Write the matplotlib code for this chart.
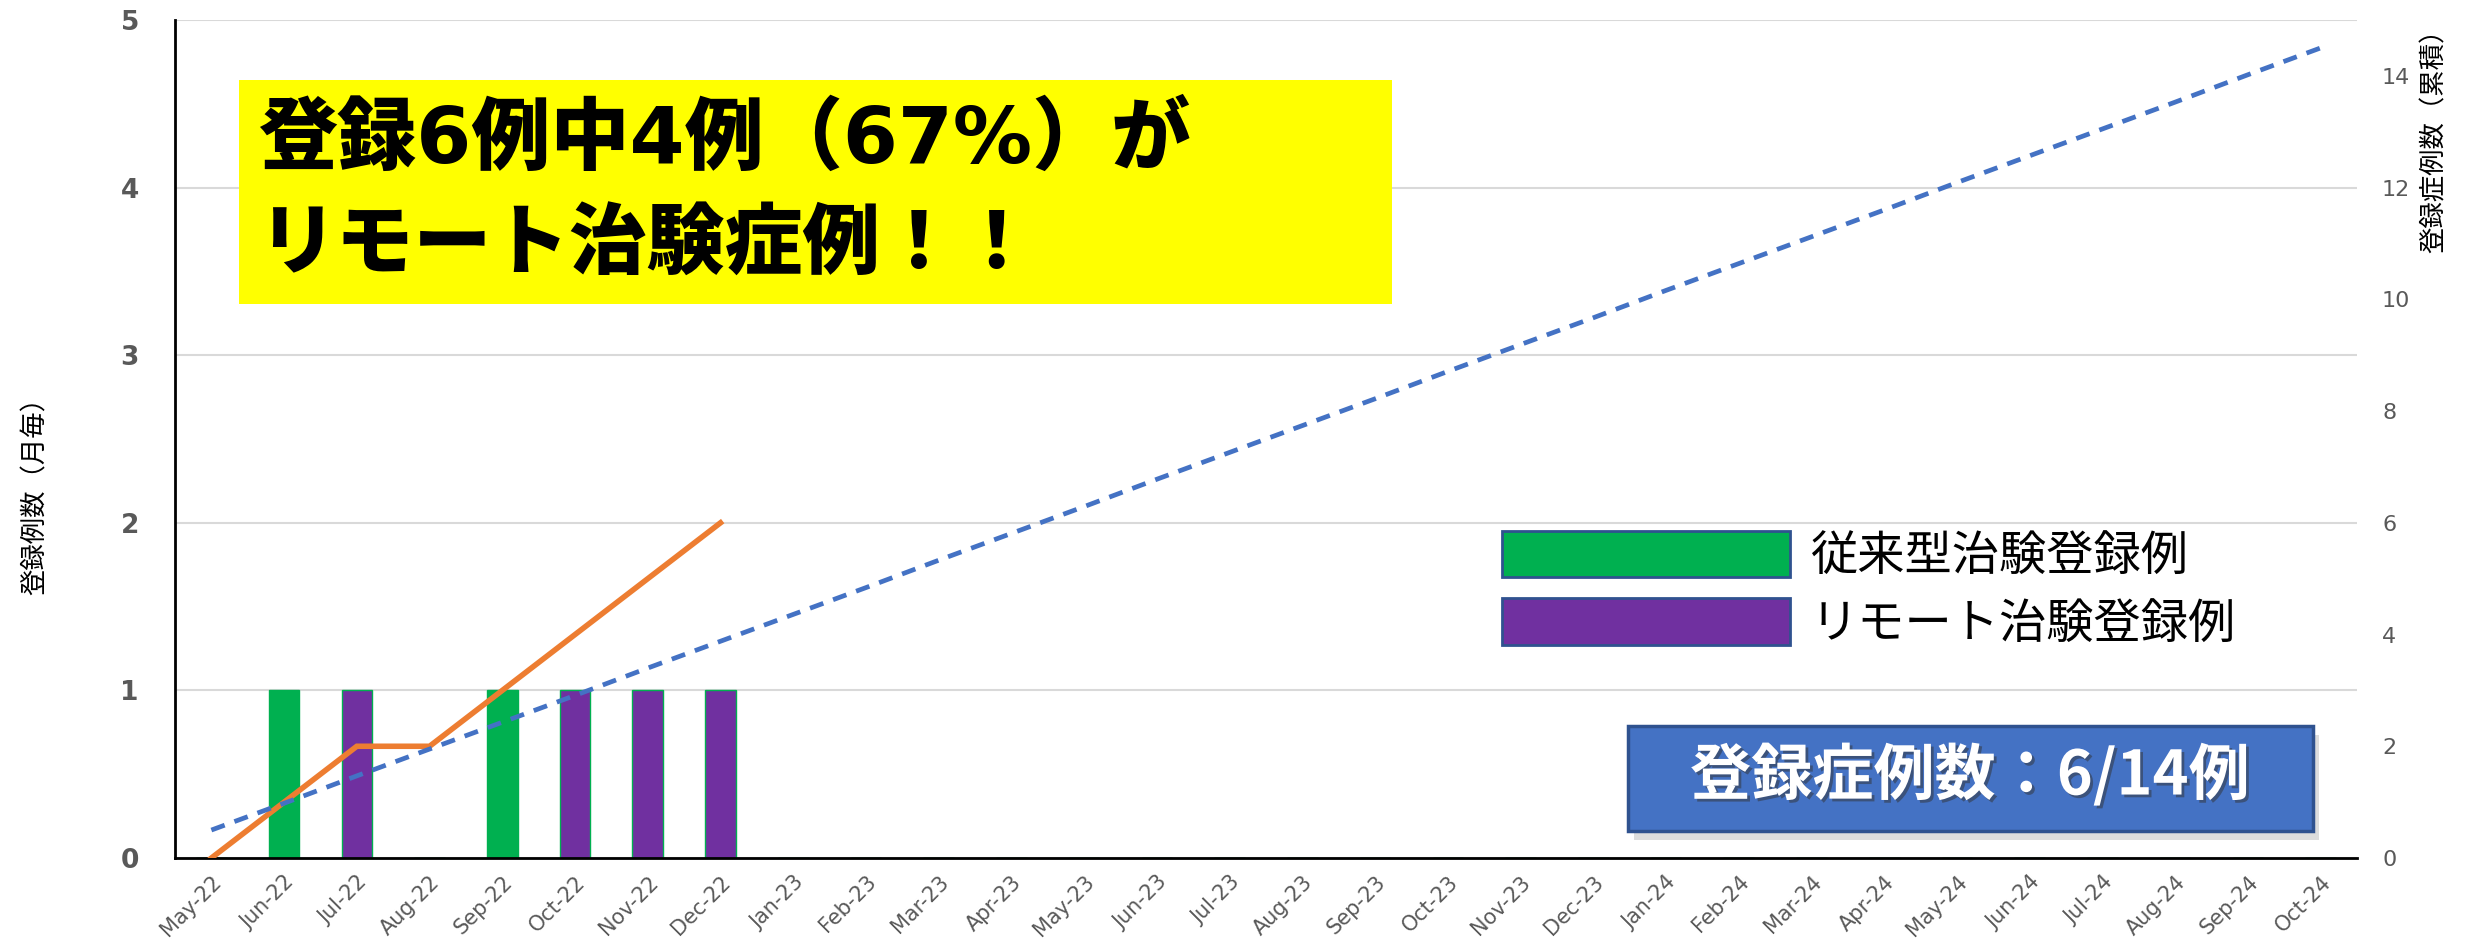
import matplotlib
matplotlib.use("Agg")
import matplotlib.pyplot as plt
import matplotlib.patheffects as pe
from matplotlib.patches import Rectangle, Patch
import numpy as np

plt.rcParams['font.family'] = ['Noto Sans CJK JP', 'DejaVu Sans']

# data
months = ['May-22', 'Jun-22', 'Jul-22', 'Aug-22', 'Sep-22', 'Oct-22', 'Nov-22', 'Dec-22',
          'Jan-23', 'Feb-23', 'Mar-23', 'Apr-23', 'May-23', 'Jun-23', 'Jul-23', 'Aug-23',
          'Sep-23', 'Oct-23', 'Nov-23', 'Dec-23', 'Jan-24', 'Feb-24', 'Mar-24', 'Apr-24',
          'May-24', 'Jun-24', 'Jul-24', 'Aug-24', 'Sep-24', 'Oct-24']
conventional = [0, 1, 0, 0, 1, 0, 0, 0] + [0] * 22
remote = [0, 0, 1, 0, 0, 1, 1, 1] + [0] * 22
cumulative = [0, 1, 2, 2, 3, 4, 5, 6]
target = [0.5, 0.98, 1.47, 1.95, 2.43, 2.91, 3.40, 3.88, 4.36, 4.84, 5.33, 5.81, 6.29, 6.78, 7.26,
          7.74, 8.22, 8.71, 9.19, 9.67, 10.16, 10.64, 11.12, 11.60, 12.09, 12.57, 13.05, 13.53,
          14.02, 14.5]
legend_labels = ['従来型治験登録例', 'リモート治験登録例']
headline = ['登録6例中4例（67%）が', 'リモート治験症例！！']
total_text = '登録症例数：6/14例'

W, H = 2469, 947
fig = plt.figure(figsize=(W / 100, H / 100), dpi=100)


def fx(px):
    return px / W


def fy(py):
    return 1 - py / H


ax = fig.add_axes([fx(175), fy(858), fx(2357 - 175), (858 - 20) / H])
ax2 = ax.twinx()

x = np.arange(len(months))
green = '#00b050'
purple = '#7030a0'
ax.bar(x, conventional, width=0.42, color=green, edgecolor=green, linewidth=1)
ax.bar(x, remote, width=0.42, color=purple, edgecolor=green, linewidth=1)

ax.set_xlim(-0.5, len(months) - 0.5)
ax.set_ylim(0, 5)
ax.set_yticks(range(6))
ax.grid(axis='y', color='#d9d9d9', linewidth=1.5)
ax.set_axisbelow(True)
ax.set_xticks(x)
ax.set_xticklabels(months, rotation=45, ha='right', rotation_mode='anchor',
                   color='#595959', fontsize=15, family='DejaVu Sans')
ax.tick_params(axis='both', length=0, pad=10)
for t in ax.get_yticklabels():
    t.set_family('DejaVu Sans')
    t.set_fontweight('heavy')
    t.set_fontsize(19)
    t.set_color('#595959')
ax.tick_params(axis='y', pad=26)
for s in ['top', 'right']:
    ax.spines[s].set_visible(False)
ax.spines['left'].set_linewidth(2)
ax.spines['bottom'].set_linewidth(2)
ax.set_ylabel('登録例数（月毎）', fontsize=19)
ax.yaxis.set_label_coords(-0.058, 0.44)

x_cum = np.arange(len(cumulative))
ax2.plot(x_cum, cumulative, color='#ed7d31', linewidth=4, solid_joinstyle='miter')
ax2.plot(x, target, color='#4472c4', linewidth=3.4, linestyle=(0, (3, 2.2)))
ax2.set_ylim(0, 15)
ax2.set_yticks(range(0, 15, 2))
ax2.tick_params(axis='y', length=0, pad=18, labelsize=16, labelcolor='#595959')
for t in ax2.get_yticklabels():
    t.set_family('DejaVu Sans')
for s in ['top', 'right', 'left', 'bottom']:
    ax2.spines[s].set_visible(False)
fig.text(fx(2434), fy(16), '登録症例数（累積）', rotation=90, fontsize=19,
         ha='center', va='top')

# headline box
fig.add_artist(Rectangle((fx(239), fy(304)), fx(1392 - 239), (304 - 80) / H,
                         transform=fig.transFigure, facecolor='#ffff00', edgecolor='none', zorder=5))
fig.text(fx(258), fy(140), headline[0], fontsize=57, fontweight='black', va='center', zorder=6,
         family=['DejaVu Sans', 'Noto Sans CJK JP'])
fig.text(fx(258), fy(246), headline[1], fontsize=56, fontweight='black', va='center', zorder=6)

# legend
handles = [Patch(facecolor=green, edgecolor='#2f528f', linewidth=2),
           Patch(facecolor=purple, edgecolor='#2f528f', linewidth=2)]
fig.legend(handles, legend_labels, loc='upper left', bbox_to_anchor=(fx(1478), fy(507)),
           frameon=False, fontsize=34, handlelength=6.1, handleheight=1.15,
           labelspacing=0.36, handletextpad=0.45, borderpad=0)

# total box with shadow
fig.add_artist(Rectangle((fx(1634), fy(840)), fx(2313 - 1628), (831 - 726) / H,
                         transform=fig.transFigure, facecolor='#aaaaaa', edgecolor='none',
                         alpha=0.4, zorder=5))
fig.add_artist(Rectangle((fx(1628), fy(831)), fx(2313 - 1628), (831 - 726) / H,
                         transform=fig.transFigure, facecolor='#4472c4', edgecolor='#2f528f',
                         linewidth=2.5, zorder=6))
fig.text(fx(1970), fy(776), total_text, fontsize=44, fontweight='bold', color='white',
         ha='center', va='center', zorder=7,
         path_effects=[pe.withSimplePatchShadow(offset=(2, -2), shadow_rgbFace='#333333', alpha=0.5)])

fig.savefig('out.png', dpi=100)
